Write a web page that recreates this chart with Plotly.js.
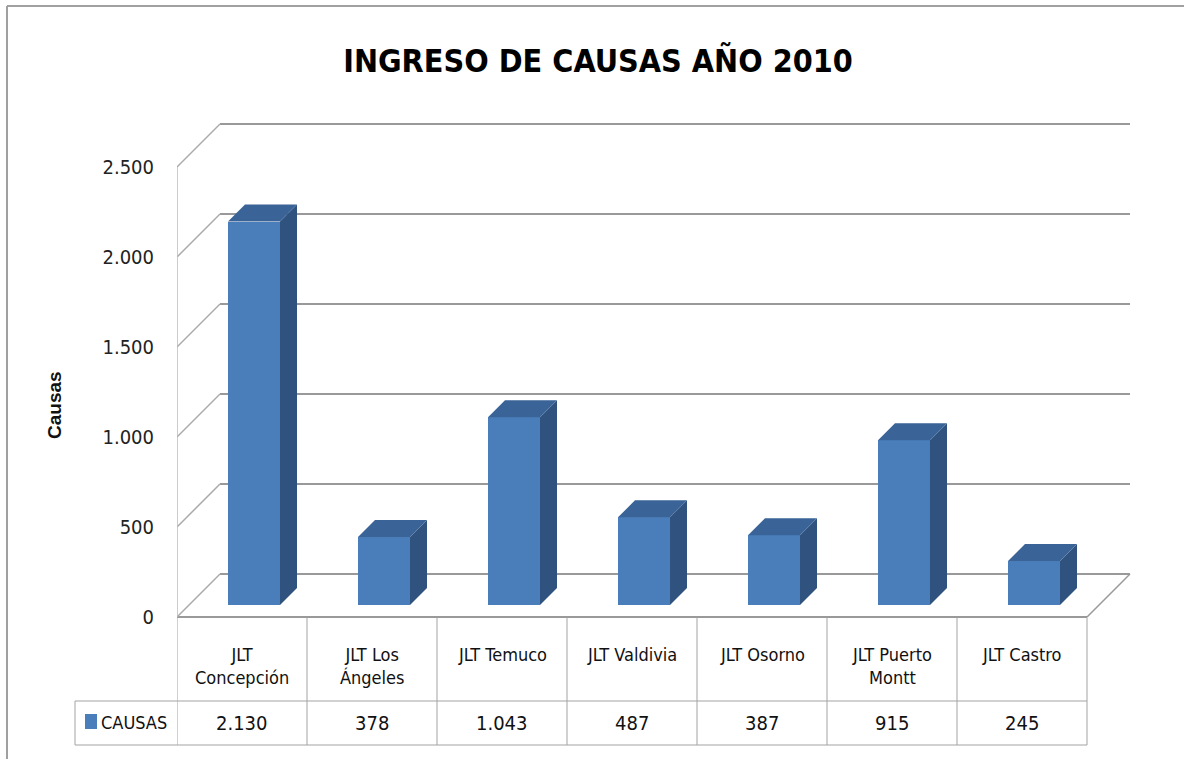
<!DOCTYPE html>
<html>
<head>
<meta charset="utf-8">
<script src="https://cdn.plot.ly/plotly-3.0.1.min.js"></script>
<style>
  html, body { margin: 0; padding: 0; background: #ffffff; }
  #chart { width: 1184px; height: 759px; }
</style>
</head>
<body>
<div id="chart"></div>
<script>
// ---------------- DATA ----------------
const categories = ['JLT Concepción', 'JLT Los Ángeles', 'JLT Temuco', 'JLT Valdivia', 'JLT Osorno', 'JLT Puerto Montt', 'JLT Castro'];
const tableLabels = ['JLT<br>Concepción', 'JLT Los<br>Ángeles', 'JLT Temuco', 'JLT Valdivia', 'JLT Osorno', 'JLT Puerto<br>Montt', 'JLT Castro'];
const causas = [2130, 378, 1043, 487, 387, 915, 245];
const yTicks = [0, 500, 1000, 1500, 2000, 2500];
const seriesName = 'CAUSAS';
const yTitle = 'Causas';
const chartTitle = 'INGRESO DE CAUSAS AÑO 2010';

// ---------------- LAYOUT CONSTANTS ----------------
const W = 1184, H = 759;
const PL = 177, PR = 1131, PT = 122, PB = 617;       // plot area in pixels
const PX_PER_CAT = 130;                               // pixels per category slot
const PX_PER_UNIT = 0.18;                             // pixels per value unit
const DEPTH_PX = 43;                                  // 3D depth in pixels
const N = categories.length;

const xMin = -0.5;
const xMax = xMin + (PR - PL) / PX_PER_CAT;
const yMax = (PB - PT) / PX_PER_UNIT;
const DX = DEPTH_PX / PX_PER_CAT;
const DY = DEPTH_PX / PX_PER_UNIT;
const F1 = 12 / DEPTH_PX;     // front offset of bars within depth
const F2 = 17 / DEPTH_PX;     // bar depth
const BAR_W = 0.4;

const C_FRONT = '#4A7EBB', C_SIDE = '#2F527F', C_TOP = '#3A6397';
const GRID = '#999999', TABLE = '#a3a3a3';
const NARROW = '"Liberation Sans Narrow", "DejaVu Sans Condensed", sans-serif';

const py2paper = py => (PB - py) / (PB - PT);
const px2paper = px => (px - PL) / (PR - PL);
const fmt = v => String(v).replace(/\B(?=(\d{3})+(?!\d))/g, '.');

// ---------------- WALLS / GRID (shapes below traces) ----------------
const shapes = [];
const line = (x0, y0, x1, y1, color, width, xref, yref) => shapes.push({
  type: 'line', x0, y0, x1, y1, xref: xref || 'x', yref: yref || 'y', layer: 'below',
  line: { color, width }
});
const xLast = xMin + N;
yTicks.forEach(t => {
  line(xMin + DX, t + DY, xLast + DX, t + DY, GRID, 2);
  line(xMin, t, xMin + DX, t + DY, '#aaaaaa', 1.5);
});
line(xMin, 0, xMin, yTicks[yTicks.length - 1], '#bbbbbb', 1.5);
line(xLast, 0, xLast + DX, DY, GRID, 1.5);

// ---------------- TABLE ----------------
const rowTop = PB, rowMid = 701, rowBot = 745, legLeft = 75;
line(xMin, py2paper(rowTop), xLast, py2paper(rowTop), GRID, 2, 'x', 'paper');
for (let k = 0; k <= N; k++) {
  line(xMin + k, py2paper(rowTop), xMin + k, py2paper(rowBot), TABLE, 1, 'x', 'paper');
}
line(px2paper(legLeft), py2paper(rowMid), px2paper(PL), py2paper(rowMid), TABLE, 1, 'paper', 'paper');
line(px2paper(legLeft), py2paper(rowBot), px2paper(PL), py2paper(rowBot), TABLE, 1, 'paper', 'paper');
line(xMin, py2paper(rowMid), xLast, py2paper(rowMid), TABLE, 1, 'x', 'paper');
line(xMin, py2paper(rowBot), xLast, py2paper(rowBot), TABLE, 1, 'x', 'paper');
line(px2paper(legLeft), py2paper(rowMid), px2paper(legLeft), py2paper(rowBot), TABLE, 1, 'paper', 'paper');
shapes.push({
  type: 'rect', xref: 'paper', yref: 'paper', layer: 'above',
  x0: px2paper(85), x1: px2paper(97), y0: py2paper(729), y1: py2paper(714),
  fillcolor: C_FRONT, line: { width: 0 }
});
shapes.push({ type: 'line', xref: 'paper', yref: 'paper', x0: px2paper(7), x1: px2paper(7), y0: py2paper(6), y1: py2paper(H + 5), line: { color: '#a0a0a0', width: 2 } });
shapes.push({ type: 'line', xref: 'paper', yref: 'paper', x0: px2paper(7), x1: px2paper(W + 5), y0: py2paper(6), y1: py2paper(6), line: { color: '#a0a0a0', width: 2 } });

// ---------------- BARS (3D look) ----------------
const xs = categories.map((_, i) => i + F1 * DX);
const base = categories.map(() => F1 * DY);

const sideX = [], sideY = [], topX = [], topY = [];
causas.forEach((v, i) => {
  const xl = xs[i] - BAR_W / 2, xr = xs[i] + BAR_W / 2, b = base[i];
  sideX.push(xr, xr + F2 * DX, xr + F2 * DX, xr, xr, null);
  sideY.push(b, b + F2 * DY, b + v + F2 * DY, b + v, b, null);
  topX.push(xl, xr, xr + F2 * DX, xl + F2 * DX, xl, null);
  topY.push(b + v, b + v, b + v + F2 * DY, b + v + F2 * DY, b + v, null);
});

const traces = [
  {
    type: 'bar', name: seriesName, x: xs, y: causas, base: base, width: BAR_W,
    marker: { color: C_FRONT, line: { width: 0 } }, hoverinfo: 'skip', showlegend: false
  },
  {
    type: 'scatter', x: sideX, y: sideY, mode: 'none', fill: 'toself', fillcolor: C_SIDE,
    hoverinfo: 'skip', showlegend: false
  },
  {
    type: 'scatter', x: topX, y: topY, mode: 'none', fill: 'toself', fillcolor: C_TOP,
    hoverinfo: 'skip', showlegend: false
  }
];

// ---------------- ANNOTATIONS ----------------
const annotations = [];
tableLabels.forEach((lab, i) => annotations.push({
  xref: 'x', yref: 'paper', x: i, y: py2paper(642), yanchor: 'top', xanchor: 'center',
  text: lab, showarrow: false, align: 'center',
  font: { family: NARROW, size: 18, color: '#111111' }
}));
causas.forEach((v, i) => annotations.push({
  xref: 'x', yref: 'paper', x: i, y: py2paper(723), yanchor: 'middle', xanchor: 'center',
  text: fmt(v), showarrow: false,
  font: { family: NARROW, size: 20, color: '#111111' }
}));
annotations.push({
  xref: 'paper', yref: 'paper', x: px2paper(99), y: py2paper(722), xanchor: 'left', yanchor: 'middle',
  text: seriesName, showarrow: false, font: { family: NARROW, size: 18, color: '#111111' }
});
annotations.push({
  xref: 'paper', yref: 'paper', x: px2paper(54), y: py2paper(405), xanchor: 'center', yanchor: 'middle',
  text: '<b>' + yTitle + '</b>', textangle: -90, showarrow: false,
  font: { family: '"Liberation Sans", Arial, sans-serif', size: 19, color: '#111111' }
});

const layout = {
  width: W, height: H,
  margin: { l: PL, r: W - PR, t: PT, b: H - PB, pad: 0 },
  paper_bgcolor: '#ffffff', plot_bgcolor: 'rgba(0,0,0,0)',
  separators: ',.',
  showlegend: false,
  title: {
    text: '<b>' + chartTitle + '</b>', xref: 'container', yref: 'container',
    x: 598 / W, y: 1 - 61 / H, xanchor: 'center', yanchor: 'middle',
    font: { family: NARROW, size: 32, color: '#000000' }
  },
  xaxis: {
    range: [xMin, xMax], showgrid: false, zeroline: false, showline: false,
    showticklabels: false, ticks: '', fixedrange: true
  },
  yaxis: {
    range: [0, yMax], tickvals: yTicks, tickformat: ',d', showgrid: false, zeroline: false,
    showline: false, ticks: 'outside', ticklen: 18, tickcolor: 'rgba(0,0,0,0)',
    tickfont: { family: NARROW, size: 20, color: '#222222' }, fixedrange: true
  },
  shapes, annotations,
  bargap: 0
};

Plotly.newPlot('chart', traces, layout, { displayModeBar: false, staticPlot: true });
</script>
</body>
</html>
